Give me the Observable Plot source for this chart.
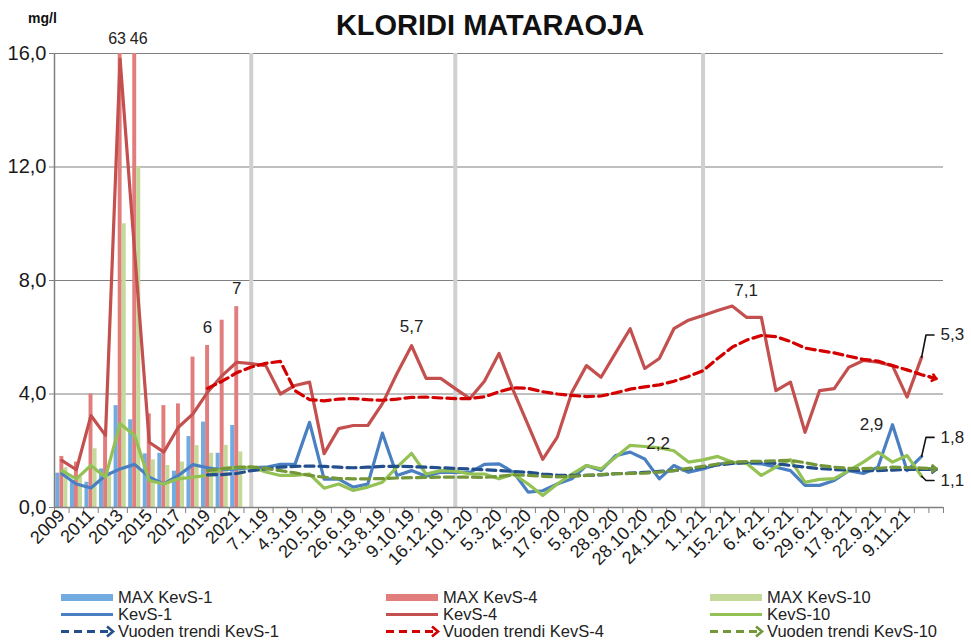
<!DOCTYPE html>
<html>
<head>
<meta charset="utf-8">
<script src="https://cdn.jsdelivr.net/npm/d3@7"></script>
<script src="https://cdn.jsdelivr.net/npm/@observablehq/plot@0.6"></script>
<style>
  body { margin: 0; background: #fff; }
  #chart svg { display: block; }
</style>
</head>
<body>
<div id="chart"></div>
<script>
// ---------- data ----------
const years = ["2009","2010","2011","2012","2013","2014","2015","2016","2017","2018","2019","2020","2021"];
// sample categories after the yearly ones (only every second one carries a visible label)
const sampleDates = ["", "7.1.19", "", "4.3.19", "", "20.5.19", "", "26.6.19", "", "13.8.19", "", "9.10.19",
  "", "16.12.19", "", "10.1.20", "", "5.3.20", "", "4.5.20", "", "17.6.20", "", "5.8.20", "", "28.9.20",
  "", "28.10.20", "", "24.11.20", "", "1.1.21", "", "15.2.21", "", "6.4.21", "", "6.5.21", "", "29.6.21",
  "", "17.8.21", "", "22.9.21", "", "9.11.21", "", ""];
const categories = years.concat(sampleDates);
const yearStarts = [13, 27, 44];           // grey year separators (category index)

const maxKevS1  = [1.21, 0.95, 0.89, 1.36, 3.59, 3.09, 1.89, 1.91, 1.28, 2.50, 3.01, 1.91, 2.89];
const maxKevS4  = [1.80, 1.60, 4.00, 2.60, 63, 46, 3.30, 3.59, 3.65, 5.30, 5.71, 6.60, 7.08];
const maxKevS10 = [1.40, 1.06, 2.07, 1.20, 10.0, 12.0, 1.68, 1.48, 1.60, 2.18, 1.91, 2.19, 1.96];

const kevS1 = [1.19, 0.83, 0.69, 1.13, 1.36, 1.52, 1.07, 0.83, 1.13, 1.51, 1.40, 1.33, 1.36,
  1.40, 1.42, 1.52, 1.52, 3.00, 1.00, 1.00, 0.72, 0.83, 2.62, 1.13, 1.30, 1.10, 1.24, 1.24, 1.24, 1.52,
  1.54, 1.24, 0.54, 0.59, 0.83, 1.01, 1.48, 1.30, 1.83, 1.95, 1.71, 1.01, 1.48, 1.24, 1.36, 1.52,
  1.58, 1.56, 1.54, 1.42, 1.30, 0.78, 0.78, 0.95, 1.30, 1.20, 1.42, 2.92, 1.30, 1.80, null];
const kevS4 = [1.66, 1.33, 3.24, 2.54, 15.8, 9.0, 2.30, 1.95, 2.83, 3.30, 4.06, 4.65, 5.12,
  5.07, 5.00, 4.00, 4.30, 4.42, 1.90, 2.78, 2.89, 2.89, 3.66, 4.72, 5.70, 4.55, 4.55, 4.19, 3.84, 4.45,
  5.43, 4.10, 2.90, 1.70, 2.48, 4.06, 5.00, 4.59, 5.45, 6.30, 4.90, 5.25, 6.30, 6.60, 6.77, 6.94,
  7.10, 6.70, 6.70, 4.12, 4.42, 2.65, 4.12, 4.19, 4.94, 5.18, 5.12, 5.00, 3.89, 5.30, null];
const kevS10 = [1.30, 1.01, 1.48, 1.07, 2.95, 2.54, 0.95, 0.83, 1.01, 1.07, 1.13, 1.36, 1.40,
  1.42, 1.25, 1.13, 1.13, 1.18, 0.68, 0.83, 0.60, 0.72, 0.89, 1.42, 1.91, 1.18, 1.30, 1.28, 1.18, 1.18,
  1.01, 1.18, 0.83, 0.42, 0.83, 1.18, 1.48, 1.36, 1.77, 2.19, 2.15, 2.10, 2.00, 1.60, 1.68, 1.80,
  1.60, 1.55, 1.13, 1.42, 1.69, 0.89, 0.99, 1.02, 1.30, 1.60, 1.95, 1.60, 1.83, 1.10, null];

// yearly trends start at category 10 (2019) and run to the last category (60)
const trendStart = 10;
const trendKevS1 = [1.15, 1.16, 1.20, 1.30, 1.36, 1.42, 1.45, 1.46, 1.45, 1.42, 1.40, 1.42, 1.45, 1.45,
  1.44, 1.42, 1.40, 1.38, 1.36, 1.33, 1.30, 1.27, 1.24, 1.18, 1.14, 1.13, 1.13, 1.15, 1.19, 1.21, 1.24,
  1.27, 1.30, 1.35, 1.42, 1.50, 1.55, 1.59, 1.60, 1.55, 1.48, 1.42, 1.37, 1.34, 1.32, 1.30, 1.30, 1.32,
  1.34, 1.34, 1.34];
const trendKevS4 = [4.20, 4.45, 4.75, 4.95, 5.08, 5.15, 4.12, 3.80, 3.76, 3.82, 3.84, 3.80, 3.78, 3.82,
  3.88, 3.89, 3.86, 3.84, 3.84, 3.90, 4.08, 4.22, 4.20, 4.08, 4.00, 3.95, 3.91, 3.93, 4.04, 4.17, 4.25,
  4.32, 4.45, 4.62, 4.82, 5.25, 5.65, 5.90, 6.06, 6.02, 5.85, 5.62, 5.53, 5.45, 5.33, 5.22, 5.16, 5.00,
  4.85, 4.68, 4.54];
const trendKevS10 = [1.30, 1.37, 1.42, 1.43, 1.38, 1.30, 1.22, 1.13, 1.07, 1.02, 1.01, 1.01, 1.02, 1.04,
  1.05, 1.06, 1.07, 1.07, 1.07, 1.06, 1.10, 1.15, 1.13, 1.10, 1.08, 1.10, 1.13, 1.16, 1.19, 1.20, 1.21,
  1.25, 1.30, 1.38, 1.45, 1.53, 1.60, 1.62, 1.63, 1.65, 1.66, 1.58, 1.48, 1.42, 1.38, 1.37, 1.38, 1.42,
  1.41, 1.39, 1.37];

const yTicks = [0, 4, 8, 12, 16];

// ---------- helpers ----------
const N = categories.length; // 61
const cx = i => i + 0.5;
const fmt1 = v => v.toFixed(1).replace(".", ",");
const fmt0 = v => String(Math.round(v));
const pts = arr => arr.map((v, i) => ({i, v})).filter(d => d.v != null);
const trendPts = arr => arr.map((v, k) => ({i: trendStart + k, v}));
const FONT = "'Liberation Sans', Arial, sans-serif";

const C = {
  bar1: "#72abdf", bar4: "#e27d7d", bar10: "#c4d99a",
  line1: "#4a80c2", line4: "#c3504e", line10: "#94c153",
  tr1: "#234f8c", tr4: "#d40000", tr10: "#74973a",
  axis: "#808080"
};

const bars = (arr, o1, o2, fill) => Plot.rectY(arr.map((v, i) => ({i, v})), {
  x1: d => d.i + o1, x2: d => d.i + o2, y1: 0, y2: "v", fill, clip: true
});
const solid = (arr, stroke) => Plot.line(pts(arr), {x: d => cx(d.i), y: "v", stroke, strokeWidth: 3.2, strokeLinejoin: "round", clip: true});
const dashed = (arr, stroke) => Plot.line(trendPts(arr), {x: d => cx(d.i), y: "v", stroke, strokeWidth: 3.2, strokeDasharray: "9,5"});
const head = (arr, stroke) => {
  const p = trendPts(arr);
  const a = p[p.length - 2], b = p[p.length - 1];
  return Plot.arrow([{a, b}], {x1: d => cx(d.a.i), y1: d => d.a.v, x2: d => cx(d.b.i), y2: d => d.b.v,
    stroke, strokeWidth: 2.6, headLength: 12, headAngle: 80, insetStart: 8});
};
const last = arr => pts(arr).slice(-1)[0];

// callouts at the end of the series (offsets are presentation only)
const callout = (arr, up) => {
  const p = last(arr);
  const yE = p.v + up;
  return [
    Plot.line([{x: cx(p.i), y: p.v}, {x: cx(p.i) + 0.3, y: yE}, {x: cx(p.i) + 0.85, y: yE}],
      {x: "x", y: "y", stroke: "#111", strokeWidth: 1.6}),
    Plot.text([p], {x: d => cx(d.i) + 1.3, y: () => yE, text: d => fmt1(d.v), textAnchor: "start", fontSize: 17, fill: "#222"})
  ];
};

// value labels: category, value, formatter, pixel offsets
const valueLabels = [
  {i: 4, v: maxKevS4[4], f: fmt0, dx: -3, dy: -15, size: 16},
  {i: 5, v: maxKevS4[5], f: fmt0, dx: 4, dy: -15, size: 16},
  {i: 10, v: maxKevS4[10], f: fmt0, dx: 0, dy: -18, size: 17},
  {i: 12, v: maxKevS4[12], f: fmt0, dx: 0, dy: -18, size: 17},
  {i: 24, v: kevS4[24], f: fmt1, dx: 0, dy: -19, size: 17},
  {i: 46, v: kevS4[46], f: fmt1, dx: 14, dy: -15, size: 17},
  {i: 39, v: kevS10[39], f: fmt1, dx: 28, dy: -2, size: 17},
  {i: 57, v: kevS1[57], f: fmt1, dx: -21, dy: 0, size: 17}
];
const labelMarks = valueLabels.map(d => Plot.text([d], {
  x: e => cx(e.i), y: e => Math.min(e.v, 16), text: e => e.f(e.v),
  dx: d.dx, dy: d.dy, fontSize: d.size, fill: "#222"
}));

const plot = Plot.plot({
  width: 971, height: 640,
  marginLeft: 54, marginRight: 28, marginTop: 53, marginBottom: 133,
  style: {fontFamily: FONT, fontSize: "18px", color: "#1a1a1a", background: "white", overflow: "visible"},
  x: {type: "linear", domain: [0, N]},
  y: {domain: [0, 16]},
  marks: [
    Plot.gridY(yTicks.filter(t => t > 0), {stroke: C.axis, strokeOpacity: 1, strokeWidth: 1.2}),
    Plot.ruleX(yearStarts, {x: d => cx(d), stroke: "#d0d0d0", strokeWidth: 4}),
    bars(maxKevS1, 0.09, 0.37, C.bar1),
    bars(maxKevS4, 0.37, 0.64, C.bar4),
    bars(maxKevS10, 0.64, 0.92, C.bar10),
    solid(kevS1, C.line1),
    solid(kevS10, C.line10),
    solid(kevS4, C.line4),
    dashed(trendKevS1, C.tr1),
    dashed(trendKevS10, C.tr10),
    dashed(trendKevS4, C.tr4),
    head(trendKevS1, C.tr1),
    head(trendKevS10, C.tr10),
    head(trendKevS4, C.tr4),
    Plot.ruleX([0], {stroke: C.axis, strokeWidth: 1.5}),
    Plot.ruleY([0], {stroke: C.axis, strokeWidth: 1.5}),
    Plot.axisY(yTicks, {tickSize: 5, tickPadding: 3, tickFormat: fmt1, fontSize: 20, stroke: C.axis, label: null}),
    Plot.axisX(d3.range(0, N + 1), {tickSize: 6, tickFormat: () => "", stroke: C.axis, label: null}),
    Plot.axisX(d3.range(0, N, 2).filter(i => categories[i]).map(cx), {
      tickSize: 0, tickPadding: 5, tickRotate: -45, textAnchor: "end",
      tickFormat: t => categories[Math.floor(t)], fontSize: 18, label: null
    }),
    ...labelMarks,
    ...callout(kevS4, 0.78),
    ...callout(kevS1, 0.67),
    ...callout(kevS10, -0.15)
  ]
});

document.getElementById("chart").appendChild(plot);

// ---------- title & legend ----------
const svg = d3.select(plot);
svg.append("text").attr("x", 490).attr("y", 35).attr("text-anchor", "middle")
  .attr("font-family", FONT).attr("font-weight", "bold").attr("font-size", 29)
  .attr("fill", "#111").text("KLORIDI MATARAOJA");
svg.append("text").attr("x", 28).attr("y", 23).attr("text-anchor", "start")
  .attr("font-family", FONT).attr("font-weight", "bold").attr("font-size", 14)
  .attr("fill", "#111").text("mg/l");

const legendItems = [
  {col: 0, row: 0, type: "bar", color: C.bar1, text: "MAX KevS-1"},
  {col: 1, row: 0, type: "bar", color: C.bar4, text: "MAX KevS-4"},
  {col: 2, row: 0, type: "bar", color: C.bar10, text: "MAX KevS-10"},
  {col: 0, row: 1, type: "line", color: C.line1, text: "KevS-1"},
  {col: 1, row: 1, type: "line", color: C.line4, text: "KevS-4"},
  {col: 2, row: 1, type: "line", color: C.line10, text: "KevS-10"},
  {col: 0, row: 2, type: "trend", color: C.tr1, text: "Vuoden trendi KevS-1"},
  {col: 1, row: 2, type: "trend", color: C.tr4, text: "Vuoden trendi KevS-4"},
  {col: 2, row: 2, type: "trend", color: C.tr10, text: "Vuoden trendi KevS-10"}
];
const colX = [61, 386, 710], rowY = [597.5, 614.5, 631.5];
const lg = svg.append("g").attr("font-family", FONT).attr("font-size", 16.5)
  .attr("fill", "#222").attr("text-anchor", "start");
for (const it of legendItems) {
  const x0 = colX[it.col], y0 = rowY[it.row];
  if (it.type === "bar") {
    lg.append("rect").attr("x", x0).attr("y", y0 - 3.5).attr("width", 52).attr("height", 7).attr("fill", it.color);
  } else if (it.type === "line") {
    lg.append("line").attr("x1", x0).attr("x2", x0 + 52).attr("y1", y0).attr("y2", y0)
      .attr("stroke", it.color).attr("stroke-width", 3.2);
  } else {
    lg.append("line").attr("x1", x0).attr("x2", x0 + 49).attr("y1", y0).attr("y2", y0)
      .attr("stroke", it.color).attr("stroke-width", 3.2).attr("stroke-dasharray", "8,5");
    lg.append("path").attr("d", `M${x0 + 46},${y0 - 5}L${x0 + 52},${y0}L${x0 + 46},${y0 + 5}`)
      .attr("fill", "none").attr("stroke", it.color).attr("stroke-width", 2.6);
  }
  lg.append("text").attr("x", x0 + 57).attr("y", y0).attr("dy", "0.35em").text(it.text);
}
</script>
</body>
</html>
